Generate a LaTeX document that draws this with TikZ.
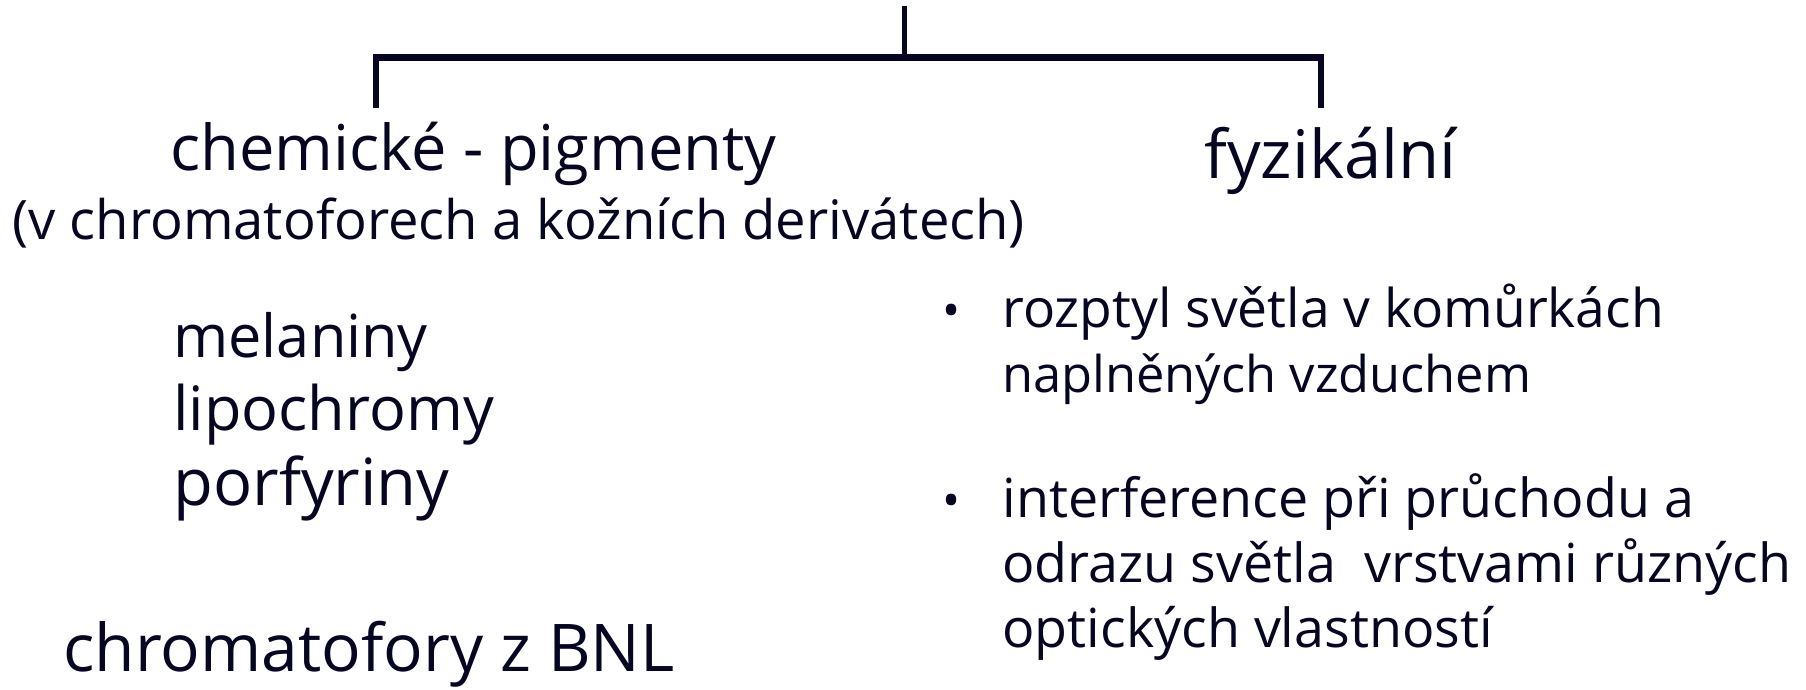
\documentclass[tikz,border=0pt]{standalone}
\usepackage{fontspec}
\setmainfont{Open Sans}
\definecolor{ink}{RGB}{6,6,34}
\begin{document}
\begin{tikzpicture}[x=0.5pt,y=-0.5pt,
  big/.style={anchor=base west,inner sep=0pt,text=ink,font=\fontsize{31.6}{31.6}\selectfont},
  mid/.style={anchor=base west,inner sep=0pt,text=ink,font=\fontsize{27.2}{27.2}\selectfont},
  sml/.style={anchor=base west,inner sep=0pt,text=ink,font=\fontsize{26.9}{26.9}\selectfont},
  stem/.style={draw=ink,line width=2.6pt},
  bar/.style={draw=ink,line width=3.5pt}]
\useasboundingbox (0,0) rectangle (1806,690);
\fill[white] (0,0) rectangle (1806,690);
% tree lines
\coordinate (top) at (904.5,6);
\coordinate (hub) at (904.5,57.5);
\coordinate (lend) at (373,57.5);
\coordinate (rend) at (1324,57.5);
\coordinate (lfoot) at (376,108);
\coordinate (rfoot) at (1321,108);
\draw[stem] (top) -- (hub);
\draw[bar] (lend) -- (rend);
\draw[stem,line width=3pt] (lfoot |- lend) -- (lfoot);
\draw[stem,line width=3pt] (rfoot |- rend) -- (rfoot);
% headings
\node[big] (chem) at (170,170) {chemické - pigmenty};
\node[big,font=\fontsize{33.5}{33.5}\selectfont] (fyz) at (1204,178) {fyzikální};
\node[mid] (paren) at (12,240) {(v chromatoforech a kožních derivátech)};
% left list
\node[big,font=\fontsize{29.7}{29.7}\selectfont] (mel) at (173,357) {melaniny};
\node[big,font=\fontsize{30.6}{30.6}\selectfont] (lip) at (173,430) {lipochromy};
\node[big,font=\fontsize{32.5}{32.5}\selectfont] (por) at (173,505) {porfyriny};
\node[big,font=\fontsize{32.9}{32.9}\selectfont] (bnl) at (63,671) {chromatofory z BNL};
% right list
\node[sml,font=\fontsize{24}{24}\selectfont] (b1) at (942,327) {•};
\node[sml,font=\fontsize{26.7}{26.7}\selectfont] (r1) at (1002,327) {rozptyl světla v komůrkách};
\node[sml,font=\fontsize{25.3}{25.3}\selectfont] (r2) at (1002,392) {naplněných vzduchem};
\node[sml,font=\fontsize{24}{24}\selectfont] (b2) at (942,517) {•};
\node[sml] (r3) at (1002,517) {interference při průchodu a};
\node[sml] (r4) at (1002,582) {odrazu světla\ \ vrstvami různých};
\node[sml] (r5) at (1002,647) {optických vlastností};
\end{tikzpicture}
\end{document}
